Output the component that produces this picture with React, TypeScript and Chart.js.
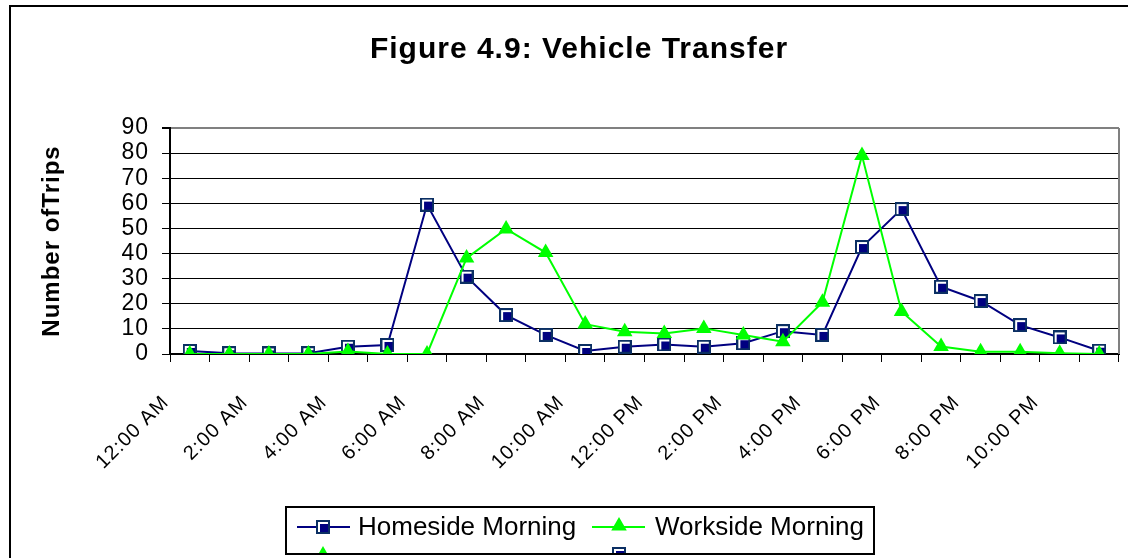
import React, { useEffect, useRef } from 'react';
import { Chart, registerables } from 'chart.js';

Chart.register(...registerables);

const hourLabels = [
  '12:00 AM', '1:00 AM', '2:00 AM', '3:00 AM', '4:00 AM', '5:00 AM',
  '6:00 AM', '7:00 AM', '8:00 AM', '9:00 AM', '10:00 AM', '11:00 AM',
  '12:00 PM', '1:00 PM', '2:00 PM', '3:00 PM', '4:00 PM', '5:00 PM',
  '6:00 PM', '7:00 PM', '8:00 PM', '9:00 PM', '10:00 PM', '11:00 PM',
];

const homesideMorning = [
  1.2, 0.3, 0.2, 0.3, 2.9, 3.6, 59.5, 30.8, 15.5, 7.6, 1.2, 2.9,
  3.8, 2.9, 4.3, 9.1, 7.6, 42.6, 57.7, 26.8, 21.1, 11.5, 6.6, 1.3,
];

const worksideMorning = [
  0, 0, 0, 0, 1, 0, 0, 38.2, 49.8, 40.4, 11.9, 8.9,
  8.2, 10.2, 7.6, 4.9, 20.6, 79, 16.9, 3, 0.9, 0.9, 0.3, 0,
];

const seriesNames = ['Homeside Morning', 'Workside Morning'];
const titleText = 'Figure 4.9: Vehicle Transfer';
const yAxisTitle = 'Number ofTrips';
const yMin = 0;
const yMax = 90;
const yStep = 10;

const FONT = '"Liberation Sans", Arial, Helvetica, sans-serif';
const NAVY = '#000080';
const GREEN = '#00ff00';

function makeSquareMarker(): HTMLCanvasElement {
  const c = document.createElement('canvas');
  c.width = 14;
  c.height = 14;
  const g = c.getContext('2d')!;
  g.fillStyle = '#0b2f63';
  g.fillRect(0, 0, 14, 14);
  g.fillStyle = '#ffffff';
  g.fillRect(2, 2, 10, 10);
  g.fillStyle = NAVY;
  g.fillRect(4, 4, 8, 8);
  return c;
}

function drawTriangle(ctx: CanvasRenderingContext2D, x: number, y: number, r: number) {
  ctx.beginPath();
  ctx.moveTo(x, y - r);
  ctx.lineTo(x + r * 0.866, y + r / 2);
  ctx.lineTo(x - r * 0.866, y + r / 2);
  ctx.closePath();
  ctx.fillStyle = GREEN;
  ctx.fill();
}

export default function App() {
  const ref = useRef<HTMLCanvasElement | null>(null);

  useEffect(() => {
    const canvas = ref.current;
    if (!canvas) return;
    const square = makeSquareMarker();

    const decor = {
      id: 'decor',
      beforeDraw(chart: any) {
        const ctx = chart.ctx as CanvasRenderingContext2D;
        ctx.save();
        ctx.fillStyle = '#ffffff';
        ctx.fillRect(0, 0, chart.width, chart.height);
        ctx.restore();
        (ctx as any).letterSpacing = '1px';
      },
      afterDraw(chart: any) {
        const ctx = chart.ctx as CanvasRenderingContext2D;
        const a = chart.chartArea;
        ctx.save();
        (ctx as any).letterSpacing = '0px';
        // plot area right border
        ctx.strokeStyle = '#808080';
        ctx.lineWidth = 2;
        ctx.beginPath();
        ctx.moveTo(a.right, a.top);
        ctx.lineTo(a.right, a.bottom);
        ctx.stroke();
        // outer frame
        ctx.strokeStyle = '#000';
        ctx.lineWidth = 2;
        ctx.strokeRect(10, 6, chart.width + 100, chart.height + 100);
        // title
        (ctx as any).letterSpacing = '1px';
        ctx.font = `bold 30px ${FONT}`;
        ctx.fillStyle = '#000';
        ctx.textAlign = 'center';
        ctx.textBaseline = 'alphabetic';
        ctx.fillText(titleText, 579, 58);
        (ctx as any).letterSpacing = '0px';
        // legend box
        const bx = 286, by = 507, bw = 588, bh = 47;
        ctx.fillStyle = '#fff';
        ctx.fillRect(bx, by, bw, bh);
        ctx.strokeStyle = '#000';
        ctx.lineWidth = 2;
        ctx.strokeRect(bx, by, bw, bh);
        const rowY = 527;
        // item 1
        ctx.strokeStyle = NAVY;
        ctx.lineWidth = 2;
        ctx.beginPath();
        ctx.moveTo(297, rowY);
        ctx.lineTo(350, rowY);
        ctx.stroke();
        ctx.drawImage(square, 323 - 7, rowY - 7);
        // item 2
        ctx.strokeStyle = GREEN;
        ctx.beginPath();
        ctx.moveTo(592, rowY);
        ctx.lineTo(645, rowY);
        ctx.stroke();
        drawTriangle(ctx, 619, rowY - 1, 9);
        ctx.font = `26px ${FONT}`;
        ctx.fillStyle = '#000';
        ctx.textAlign = 'left';
        ctx.textBaseline = 'middle';
        ctx.fillText(seriesNames[0], 358, rowY + 1);
        ctx.fillText(seriesNames[1], 655, rowY + 1);
        // second legend row, clipped by the box
        ctx.save();
        ctx.beginPath();
        ctx.rect(bx + 1, by + 1, bw - 2, bh - 2);
        ctx.clip();
        drawTriangle(ctx, 323, 555, 9);
        ctx.drawImage(square, 619 - 7, 547);
        ctx.restore();
        ctx.restore();
      },
    };

    const chart = new Chart(canvas, {
      type: 'line',
      data: {
        labels: hourLabels,
        datasets: [
          {
            label: seriesNames[0],
            data: homesideMorning,
            borderColor: NAVY,
            backgroundColor: NAVY,
            borderWidth: 2,
            pointStyle: square as any,
            pointRadius: 7,
            tension: 0,
            order: 1,
          },
          {
            label: seriesNames[1],
            data: worksideMorning,
            borderColor: GREEN,
            backgroundColor: GREEN,
            borderWidth: 2,
            pointStyle: 'triangle',
            pointRadius: 9,
            pointBorderWidth: 0,
            tension: 0,
            order: 0,
          },
        ],
      },
      options: {
        responsive: false,
        animation: false,
        events: [],
        layout: { padding: { top: 128, right: 6, left: 0, bottom: 0 } },
        font: { family: FONT },
        plugins: {
          legend: { display: false },
          title: { display: false },
          tooltip: { enabled: false },
        },
        scales: {
          x: {
            type: 'category',
            offset: true,
            grid: {
              offset: true,
              drawOnChartArea: false,
              drawTicks: true,
              tickLength: 8,
              color: '#000',
              tickColor: '#000',
              lineWidth: 1,
            },
            border: { color: '#000', width: 2 },
            ticks: {
              autoSkip: false,
              minRotation: 45,
              maxRotation: 45,
              color: '#000',
              padding: 29,
              labelOffset: -24,
              font: { family: FONT, size: 20 },
              callback: (_v: any, i: number) => (i % 2 === 0 ? hourLabels[i] : ''),
            },
            afterFit: (s: any) => {
              s.height = 204;
              s.paddingLeft = 0;
              s.paddingRight = 0;
            },
          },
          y: {
            min: yMin,
            max: yMax,
            grid: {
              color: (c: any) => (c.tick && c.tick.value === yMax ? '#808080' : '#000'),
              lineWidth: (c: any) => (c.tick && c.tick.value === yMax ? 2 : 1),
              tickColor: '#000',
              tickLength: 8,
            },
            border: { color: '#000', width: 2 },
            ticks: {
              stepSize: yStep,
              autoSkip: false,
              color: '#000',
              padding: 13,
              font: { family: FONT, size: 23 },
            },
            title: {
              display: true,
              text: yAxisTitle,
              color: '#000',
              font: { family: FONT, size: 24, weight: 'bold' },
              padding: { top: 38, bottom: 0 },
            },
            afterFit: (s: any) => {
              s.width = 170;
              s.paddingTop = 0;
              s.paddingBottom = 0;
            },
          },
        },
      },
      plugins: [decor],
    });

    return () => chart.destroy();
  }, []);

  return (
    <div style={{ position: 'fixed', left: 0, top: 0, width: 1128, height: 558, background: '#fff' }}>
      <canvas ref={ref} width={1128} height={558} style={{ display: 'block' }} />
    </div>
  );
}
